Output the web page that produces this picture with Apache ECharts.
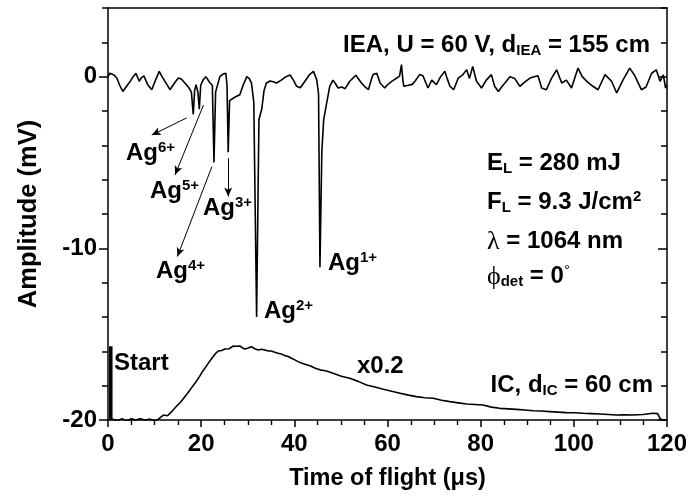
<!DOCTYPE html>
<html><head><meta charset="utf-8">
<script src="https://cdn.jsdelivr.net/npm/echarts@6/dist/echarts.min.js"></script>
<style>html,body{margin:0;padding:0;background:#fff}#c{width:691px;height:500px}</style>
</head><body><div id="c"></div>
<script>
// ---- data ----
const ieaTime = [0.0,0.4,0.8,1.3,1.9,2.5,3.2,3.6,4.0,4.7,5.4,6.0,6.7,7.2,7.7,8.5,9.4,10.2,11.0,11.6,12.4,13.3,14.2,15.1,15.8,16.6,17.4,17.9,18.3,18.6,18.9,19.3,19.6,19.9,20.4,21.0,21.9,22.4,22.75,23.1,23.5,24.0,24.7,25.3,25.55,25.8,26.1,26.5,27.2,28.3,29.0,29.8,30.3,30.8,31.3,31.9,32.4,33.0,33.5,34.0,34.8,35.5,36.2,37.2,38.2,39.1,39.8,40.5,41.3,42.2,43.2,44.1,44.8,45.2,45.5,45.9,46.3,46.9,47.6,48.3,48.8,49.4,50.2,50.9,51.9,53.2,54.4,55.2,55.9,56.5,56.9,57.7,58.4,59.4,59.9,60.9,62.0,62.6,63.0,63.3,63.5,64.5,65.3,65.9,66.9,67.6,68.7,69.5,70.5,71.4,72.3,72.8,73.4,74.2,75.2,76.2,77.0,77.6,78.3,79.1,80.2,81.2,82.3,83.0,83.8,84.5,85.2,86.3,87.3,88.4,89.5,90.6,91.5,92.3,93.1,94.1,95.2,96.3,97.4,98.4,99.5,100.9,101.8,102.9,104.1,105.2,106.7,108.1,109.2,110.6,112.0,113.0,114.5,115.5,116.7,117.7,118.5,119.2,119.7,120.0];
const ieaAmp = [0.0,0.2,0.25,0.1,-0.08,-0.5,-0.86,-0.7,-0.56,-0.3,0.0,0.2,-0.27,-0.05,0.05,-0.45,-0.76,-0.2,0.31,0.0,-0.35,-0.76,-0.4,-0.08,-0.15,-0.4,-0.66,-0.9,-2.2,-0.8,-0.47,-0.9,-1.9,-0.5,-0.2,0.0,-0.37,-0.5,-5.0,-0.9,-0.86,0.0,0.15,0.2,-0.5,-4.4,-1.4,-1.34,-1.2,-1.05,-0.5,0.0,-0.1,-0.37,-1.5,-14.0,-2.5,-1.9,-0.8,-0.37,-0.25,-0.3,-0.37,-0.2,0.0,0.1,-0.2,-0.56,-0.65,-0.3,0.1,0.31,-0.17,-1.0,-11.1,-4.4,-2.5,-1.6,-0.56,-0.2,-0.4,-0.66,-0.6,-0.7,-0.27,0.08,-0.37,-0.6,-0.76,-0.2,0.12,0.2,-0.37,-0.66,-0.5,-0.27,-0.08,0.05,0.7,-0.2,-0.56,-0.5,-0.45,-0.27,0.12,0.05,-0.66,-0.2,-0.47,0.0,0.31,-0.1,-0.56,-0.76,-0.08,0.12,0.4,-0.1,0.6,-0.27,-0.66,-0.2,0.12,-0.56,-0.86,-0.6,-0.37,0.0,-0.1,-0.56,-0.3,-0.08,0.0,0.05,-0.66,-0.76,-0.1,0.4,-0.37,-0.2,-0.66,0.5,0.0,-0.3,-0.56,-0.76,0.12,-0.27,-0.95,-0.17,0.5,0.1,-0.76,-0.6,0.2,0.4,-0.27,0.1,-0.66,-0.5];
const icTime = [0.5,1.1,2.0,3.0,4.0,5.0,6.0,7.0,8.0,9.0,10.0,10.8,11.9,12.8,13.7,14.7,15.6,16.5,17.2,18.0,18.7,19.4,20.1,20.8,21.5,22.3,23.0,23.7,24.4,25.1,26.0,26.9,27.6,28.3,28.9,29.4,30.1,30.8,31.5,32.3,33.0,33.7,34.4,35.1,35.8,36.5,37.2,38.0,38.7,39.4,40.1,40.8,41.5,42.3,43.5,44.5,45.5,46.9,48.3,50.1,51.9,53.7,55.5,57.3,59.1,60.9,62.7,64.5,66.2,68.0,69.8,71.6,73.4,75.2,77.0,78.8,80.5,82.3,84.1,85.9,87.7,89.5,91.3,93.0,94.8,96.6,98.4,100.2,102.0,103.8,105.6,107.4,109.1,110.9,112.7,114.8,117.0,118.0,118.5,119.0,120.0];
const icAmp = [-20.0,-19.95,-20.05,-19.92,-20.05,-19.93,-20.0,-19.92,-20.02,-19.95,-20.05,-19.95,-19.71,-19.75,-19.5,-19.2,-18.95,-18.64,-18.4,-18.1,-17.85,-17.57,-17.25,-16.99,-16.7,-16.4,-16.15,-15.98,-15.95,-15.86,-15.85,-15.69,-15.7,-15.69,-15.8,-15.86,-15.8,-15.73,-15.85,-15.92,-15.88,-15.92,-15.98,-15.98,-16.05,-16.11,-16.15,-16.25,-16.3,-16.4,-16.5,-16.6,-16.68,-16.75,-16.85,-16.98,-17.08,-17.15,-17.28,-17.45,-17.57,-17.75,-17.96,-18.08,-18.21,-18.33,-18.44,-18.55,-18.64,-18.7,-18.73,-18.85,-18.93,-19.0,-19.07,-19.1,-19.13,-19.25,-19.32,-19.35,-19.38,-19.42,-19.46,-19.48,-19.51,-19.54,-19.57,-19.58,-19.61,-19.63,-19.65,-19.68,-19.71,-19.7,-19.71,-19.68,-19.61,-19.63,-19.9,-20.0,-20.0];
const startTime = [0.6,0.6];
const startAmp = [-15.7,-20.0];
const yMajorTicks = [-20,-10,0];
// arrows: [fromTime, fromAmp, toTime, toAmp]
const arrowAg6 = [16.9,-2.4,9.4,-3.4];
const arrowAg5 = [20.5,-1.65,14.4,-5.72];
const arrowAg4 = [22.3,-5.24,14.9,-10.48];
const arrowAg3 = [25.8,-4.75,25.8,-6.98];

// ---- chart ----
const F = "'Liberation Sans', Arial, Helvetica, sans-serif";
const chart = echarts.init(document.getElementById('c'), null, {renderer:'canvas'});
const zip = (a,b)=>a.map((v,i)=>[v,b[i]]);
const G = {left:108, right:24, top:8, bottom:80};
const black = '#000';
const rich = {
  m:{fontFamily:F, fontWeight:'bold', fontSize:24, lineHeight:26, color:black},
  sup:{fontFamily:F, fontWeight:'bold', fontSize:15, lineHeight:22, verticalAlign:'top', color:black},
  sub:{fontFamily:F, fontWeight:'bold', fontSize:15, lineHeight:7, verticalAlign:'bottom', color:black},
  g:{fontFamily:"'Liberation Serif', 'DejaVu Serif', serif", fontWeight:'normal', fontSize:26, lineHeight:26, color:black},
  deg:{fontFamily:F, fontWeight:'normal', fontSize:15, lineHeight:20, verticalAlign:'top', color:black}
};
function txt(text, x, capTop, align){
  return {type:'text', x:x, y:capTop-4.2, z:100, style:{text:text, rich:rich, textAlign:align||'left', textVerticalAlign:'top', fill:black}};
}
const arrowList = [arrowAg6, arrowAg5, arrowAg4, arrowAg3];
const arrowsAll = arrowList.map(a=>[{coord:[a[0],a[1]]},{coord:[a[2],a[3]]}]);
const labelFont = {fontFamily:F, fontWeight:'bold', fontSize:24, color:black};
const axisLine = {show:true, onZero:false, lineStyle:{color:black, width:1.5}};
const noLine = {show:false, onZero:false};
const majorOnly = v => (Math.abs(v % 10) < 1e-9 ? String(v) : '');
const option = {
  animation:false,
  backgroundColor:'#fff',
  grid:G,
  xAxis:[{
    type:'value', min:0, max:120, interval:20, position:'bottom',
    axisLine:axisLine,
    axisTick:{show:true, inside:false, length:7, lineStyle:{color:black, width:1.5}},
    minorTick:{show:true, splitNumber:4, length:5, lineStyle:{color:black, width:1.4}},
    splitLine:{show:false},
    axisLabel:Object.assign({margin:12}, labelFont),
    name:'Time of flight (μs)', nameLocation:'middle', nameGap:47,
    nameTextStyle:{fontFamily:F, fontWeight:'bold', fontSize:23.5, color:black}
  },{
    type:'value', min:0, max:120, interval:20, position:'top',
    axisLine:axisLine, axisTick:{show:false}, axisLabel:{show:false}, splitLine:{show:false}
  }],
  yAxis:[{
    type:'value', min:-20, max:4, interval:2, position:'left',
    axisLine:axisLine,
    axisTick:{show:true, length:6, lineStyle:{color:black, width:1.5}},
    axisLabel:Object.assign({margin:11, formatter:majorOnly}, labelFont),
    splitLine:{show:false},
    name:'Amplitude (mV)', nameLocation:'middle', nameGap:66,
    nameTextStyle:{fontFamily:F, fontWeight:'bold', fontSize:25.5, color:black}
  },{
    type:'value', min:-20, max:4, interval:2, position:'right',
    axisLine:axisLine,
    axisTick:{show:true, inside:true, length:6, lineStyle:{color:black, width:1.5}},
    axisLabel:{show:false}, splitLine:{show:false}
  },{
    type:'value', min:-20, max:4, position:'left',
    axisLine:noLine,
    axisTick:{show:true, length:9, customValues:yMajorTicks, lineStyle:{color:black, width:1.5}},
    axisLabel:{show:false}, splitLine:{show:false}
  },{
    type:'value', min:-20, max:4, position:'right',
    axisLine:noLine,
    axisTick:{show:true, inside:true, length:9, customValues:yMajorTicks, lineStyle:{color:black, width:1.5}},
    axisLabel:{show:false}, splitLine:{show:false}
  }],
  series:[{
    type:'line', name:'IEA', yAxisIndex:0, data:zip(ieaTime, ieaAmp), showSymbol:false, symbol:'none',
    lineStyle:{color:black, width:1.6}, z:3
  },{
    type:'line', name:'Start', yAxisIndex:1, data:zip(startTime, startAmp), showSymbol:false, symbol:'none',
    lineStyle:{color:black, width:3.5}, z:3
  },{
    type:'line', name:'IC', yAxisIndex:2, data:zip(icTime, icAmp), showSymbol:false, symbol:'none',
    lineStyle:{color:black, width:1.6}, z:3
  },{
    type:'scatter', name:'Arrows', yAxisIndex:3, data:arrowList.map(a=>[a[0],a[1]]), symbolSize:0, silent:true,
    itemStyle:{color:'rgba(0,0,0,0)'},
    markLine:{silent:true, symbol:['none','arrow'], symbolSize:[6,9], animation:false,
      lineStyle:{color:black, width:1, type:'solid'}, label:{show:false}, data:arrowsAll}
  }],
  graphic:[
    txt('{m|IEA, U = 60 V, d}{sub|IEA}{m| = 155 cm}', 650, 37, 'right'),
    txt('{m|E}{sub|L}{m| = 280 mJ}', 487, 155),
    txt('{m|F}{sub|L}{m| = 9.3 J/cm}{sup|2}', 487, 194),
    txt('{g|λ}{m| = 1064 nm}', 487, 233),
    txt('{g|ϕ}{sub|det}{m| = 0}{deg|°}', 487, 268),
    txt('{m|Ag}{sup|6+}', 126, 145),
    txt('{m|Ag}{sup|5+}', 150, 183),
    txt('{m|Ag}{sup|3+}', 203, 200),
    txt('{m|Ag}{sup|4+}', 156, 263),
    txt('{m|Ag}{sup|2+}', 264, 303),
    txt('{m|Ag}{sup|1+}', 328, 255),
    txt('{m|Start}', 114, 355),
    txt('{m|x0.2}', 357, 358),
    txt('{m|IC, d}{sub|IC}{m| = 60 cm}', 653, 377, 'right')
  ]
};
chart.setOption(option);
</script></body></html>
